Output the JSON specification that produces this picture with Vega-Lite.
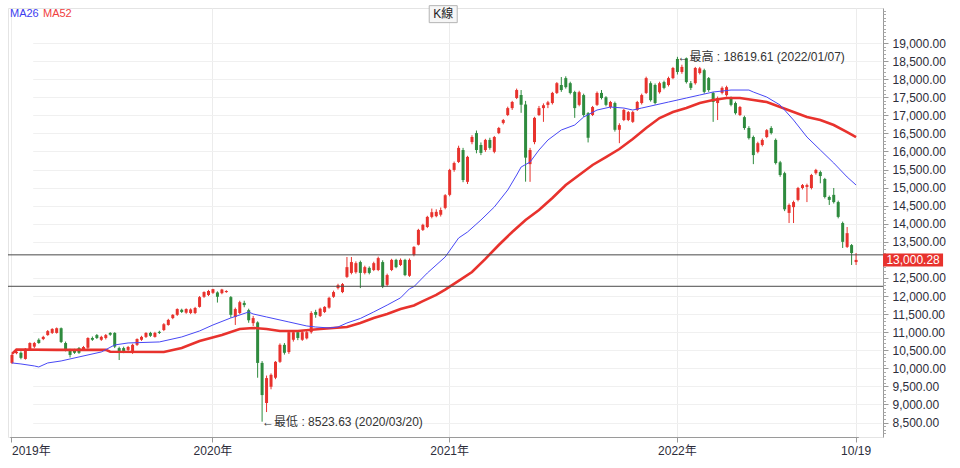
{
  "$schema": "https://vega.github.io/schema/vega-lite/v6.json",
  "width": 875,
  "height": 429,
  "autosize": {"type": "none"},
  "padding": {"left": 8, "top": 8, "right": 77, "bottom": 31},
  "background": "white",
  "config": {
    "view": {"stroke": "#e4e4e4"},
    "font": "Liberation Sans, Noto Sans CJK TC, sans-serif"
  },
  "resolve": {"scale": {"y": "shared"}, "axis": {"y": "independent"}},
  "datasets": {
    "k": [
      {"d":"2019-02-22","o":10150,"h":10400,"l":10120,"c":10370},
      {"d":"2019-03-01","o":10420,"h":10500,"l":10390,"c":10460},
      {"d":"2019-03-08","o":10430,"h":10470,"l":10250,"c":10290},
      {"d":"2019-03-15","o":10260,"h":10560,"l":10240,"c":10540},
      {"d":"2019-03-22","o":10510,"h":10720,"l":10480,"c":10700},
      {"d":"2019-03-29","o":10600,"h":10730,"l":10560,"c":10700},
      {"d":"2019-04-05","o":10790,"h":10830,"l":10680,"c":10700},
      {"d":"2019-04-12","o":10810,"h":10900,"l":10780,"c":10870},
      {"d":"2019-04-19","o":10920,"h":11060,"l":10900,"c":11030},
      {"d":"2019-04-26","o":10980,"h":11110,"l":10950,"c":11090},
      {"d":"2019-05-03","o":10980,"h":11130,"l":10960,"c":11110},
      {"d":"2019-05-10","o":11110,"h":11130,"l":10700,"c":10730},
      {"d":"2019-05-17","o":10700,"h":10740,"l":10470,"c":10510},
      {"d":"2019-05-24","o":10510,"h":10540,"l":10300,"c":10370},
      {"d":"2019-05-31","o":10500,"h":10540,"l":10400,"c":10430},
      {"d":"2019-06-06","o":10560,"h":10590,"l":10400,"c":10430},
      {"d":"2019-06-14","o":10520,"h":10620,"l":10490,"c":10590},
      {"d":"2019-06-21","o":10570,"h":10860,"l":10540,"c":10840},
      {"d":"2019-06-28","o":10840,"h":10880,"l":10760,"c":10790},
      {"d":"2019-07-05","o":10920,"h":10950,"l":10810,"c":10840},
      {"d":"2019-07-12","o":10790,"h":10900,"l":10760,"c":10870},
      {"d":"2019-07-19","o":10840,"h":10950,"l":10800,"c":10920},
      {"d":"2019-07-26","o":10980,"h":11000,"l":10900,"c":10930},
      {"d":"2019-08-02","o":10980,"h":11000,"l":10560,"c":10600},
      {"d":"2019-08-09","o":10560,"h":10600,"l":10230,"c":10430},
      {"d":"2019-08-16","o":10560,"h":10600,"l":10420,"c":10480},
      {"d":"2019-08-23","o":10510,"h":10620,"l":10470,"c":10590},
      {"d":"2019-08-30","o":10430,"h":10680,"l":10400,"c":10650},
      {"d":"2019-09-06","o":10650,"h":10830,"l":10620,"c":10810},
      {"d":"2019-09-12","o":10790,"h":10900,"l":10760,"c":10870},
      {"d":"2019-09-20","o":10870,"h":11000,"l":10840,"c":10980},
      {"d":"2019-09-27","o":10980,"h":11010,"l":10870,"c":10900},
      {"d":"2019-10-04","o":10870,"h":11010,"l":10850,"c":10980},
      {"d":"2019-10-11","o":11010,"h":11040,"l":10950,"c":10980},
      {"d":"2019-10-18","o":11060,"h":11250,"l":11030,"c":11220},
      {"d":"2019-10-25","o":11200,"h":11370,"l":11180,"c":11340},
      {"d":"2019-11-01","o":11390,"h":11500,"l":11360,"c":11480},
      {"d":"2019-11-08","o":11480,"h":11660,"l":11450,"c":11640},
      {"d":"2019-11-15","o":11620,"h":11650,"l":11530,"c":11560},
      {"d":"2019-11-22","o":11540,"h":11660,"l":11510,"c":11640},
      {"d":"2019-11-29","o":11530,"h":11660,"l":11500,"c":11630},
      {"d":"2019-12-06","o":11530,"h":11700,"l":11500,"c":11670},
      {"d":"2019-12-13","o":11700,"h":12000,"l":11680,"c":11970},
      {"d":"2019-12-20","o":11980,"h":12130,"l":11950,"c":12110},
      {"d":"2019-12-27","o":12030,"h":12170,"l":12000,"c":12140},
      {"d":"2020-01-03","o":12090,"h":12200,"l":12060,"c":12190},
      {"d":"2020-01-10","o":12100,"h":12130,"l":11820,"c":11980},
      {"d":"2020-01-17","o":12080,"h":12200,"l":12050,"c":12180},
      {"d":"2020-01-20","o":12110,"h":12160,"l":12090,"c":12140},
      {"d":"2020-01-31","o":11970,"h":12000,"l":11400,"c":11480},
      {"d":"2020-02-07","o":11420,"h":11680,"l":11200,"c":11640},
      {"d":"2020-02-14","o":11530,"h":11870,"l":11500,"c":11830},
      {"d":"2020-02-21","o":11810,"h":11870,"l":11690,"c":11750},
      {"d":"2020-02-27","o":11610,"h":11650,"l":11260,"c":11330},
      {"d":"2020-03-06","o":11250,"h":11450,"l":11170,"c":11390},
      {"d":"2020-03-13","o":11270,"h":11300,"l":9740,"c":10150},
      {"d":"2020-03-20","o":10150,"h":10200,"l":8523.63,"c":9260},
      {"d":"2020-03-27","o":9040,"h":9800,"l":8790,"c":9730},
      {"d":"2020-04-01","o":9490,"h":9860,"l":9420,"c":9820},
      {"d":"2020-04-10","o":9740,"h":10200,"l":9700,"c":10180},
      {"d":"2020-04-17","o":10180,"h":10690,"l":10150,"c":10650},
      {"d":"2020-04-24","o":10650,"h":10700,"l":10380,"c":10430},
      {"d":"2020-04-30","o":10450,"h":11030,"l":10400,"c":11000},
      {"d":"2020-05-08","o":10790,"h":11040,"l":10740,"c":11000},
      {"d":"2020-05-15","o":11000,"h":11050,"l":10780,"c":10840},
      {"d":"2020-05-22","o":10790,"h":11030,"l":10760,"c":11000},
      {"d":"2020-05-29","o":10830,"h":11040,"l":10800,"c":11000},
      {"d":"2020-06-05","o":11000,"h":11580,"l":10960,"c":11530},
      {"d":"2020-06-12","o":11560,"h":11620,"l":11400,"c":11480},
      {"d":"2020-06-19","o":11450,"h":11680,"l":11420,"c":11650},
      {"d":"2020-06-24","o":11560,"h":11720,"l":11530,"c":11700},
      {"d":"2020-07-03","o":11680,"h":11980,"l":11650,"c":11950},
      {"d":"2020-07-10","o":11980,"h":12150,"l":11950,"c":12110},
      {"d":"2020-07-17","o":12220,"h":12340,"l":12180,"c":12300},
      {"d":"2020-07-24","o":12110,"h":12360,"l":12080,"c":12330},
      {"d":"2020-07-31","o":12530,"h":13080,"l":12500,"c":12800},
      {"d":"2020-08-07","o":12640,"h":13080,"l":12600,"c":12940},
      {"d":"2020-08-14","o":12660,"h":12960,"l":12620,"c":12910},
      {"d":"2020-08-21","o":12940,"h":12980,"l":12220,"c":12640},
      {"d":"2020-08-28","o":12640,"h":12840,"l":12600,"c":12800},
      {"d":"2020-09-04","o":12780,"h":12820,"l":12600,"c":12640},
      {"d":"2020-09-11","o":12720,"h":12950,"l":12690,"c":12910},
      {"d":"2020-09-18","o":12720,"h":13090,"l":12690,"c":13050},
      {"d":"2020-09-25","o":12940,"h":12990,"l":12220,"c":12260},
      {"d":"2020-09-30","o":12310,"h":12620,"l":12270,"c":12580},
      {"d":"2020-10-08","o":12720,"h":13030,"l":12690,"c":13000},
      {"d":"2020-10-16","o":13000,"h":13030,"l":12770,"c":12800},
      {"d":"2020-10-23","o":12860,"h":13040,"l":12830,"c":13000},
      {"d":"2020-10-30","o":13000,"h":13030,"l":12550,"c":12580},
      {"d":"2020-11-06","o":12560,"h":13040,"l":12530,"c":13000},
      {"d":"2020-11-13","o":13140,"h":13380,"l":13100,"c":13360},
      {"d":"2020-11-20","o":13420,"h":13860,"l":13400,"c":13830},
      {"d":"2020-11-27","o":13830,"h":14000,"l":13800,"c":13970},
      {"d":"2020-12-04","o":13910,"h":14220,"l":13880,"c":14190},
      {"d":"2020-12-11","o":14190,"h":14420,"l":14150,"c":14320},
      {"d":"2020-12-18","o":14210,"h":14400,"l":14180,"c":14330},
      {"d":"2020-12-25","o":14250,"h":14450,"l":14200,"c":14380},
      {"d":"2020-12-31","o":14440,"h":14820,"l":14400,"c":14790},
      {"d":"2021-01-08","o":14800,"h":15520,"l":14760,"c":15490},
      {"d":"2021-01-15","o":15490,"h":15720,"l":15440,"c":15680},
      {"d":"2021-01-22","o":15710,"h":16160,"l":15680,"c":16100},
      {"d":"2021-01-29","o":16040,"h":16100,"l":15150,"c":15210},
      {"d":"2021-02-05","o":15160,"h":15880,"l":15100,"c":15850},
      {"d":"2021-02-19","o":16260,"h":16450,"l":16200,"c":16400},
      {"d":"2021-02-26","o":16510,"h":16580,"l":15950,"c":16040},
      {"d":"2021-03-05","o":16180,"h":16250,"l":15900,"c":15960},
      {"d":"2021-03-12","o":16040,"h":16350,"l":15990,"c":16320},
      {"d":"2021-03-19","o":16320,"h":16380,"l":16050,"c":16100},
      {"d":"2021-03-26","o":15990,"h":16430,"l":15950,"c":16400},
      {"d":"2021-04-01","o":16510,"h":16680,"l":16480,"c":16650},
      {"d":"2021-04-09","o":16790,"h":16900,"l":16750,"c":16870},
      {"d":"2021-04-16","o":17010,"h":17240,"l":16980,"c":17200},
      {"d":"2021-04-23","o":17200,"h":17400,"l":17150,"c":17370},
      {"d":"2021-04-30","o":17480,"h":17740,"l":17450,"c":17700},
      {"d":"2021-05-07","o":17560,"h":17700,"l":17070,"c":17290},
      {"d":"2021-05-14","o":17300,"h":17400,"l":15165,"c":15830},
      {"d":"2021-05-21","o":15650,"h":16100,"l":15160,"c":16040},
      {"d":"2021-05-28","o":16260,"h":16960,"l":16200,"c":16930},
      {"d":"2021-06-04","o":17010,"h":17260,"l":16980,"c":17200},
      {"d":"2021-06-11","o":17200,"h":17330,"l":16820,"c":17280},
      {"d":"2021-06-18","o":17290,"h":17400,"l":17200,"c":17360},
      {"d":"2021-06-25","o":17340,"h":17650,"l":17300,"c":17620},
      {"d":"2021-07-02","o":17620,"h":17920,"l":17590,"c":17890},
      {"d":"2021-07-09","o":17840,"h":18060,"l":17650,"c":17700},
      {"d":"2021-07-16","o":18030,"h":18080,"l":17740,"c":17780},
      {"d":"2021-07-23","o":17890,"h":17930,"l":17580,"c":17620},
      {"d":"2021-07-30","o":17645,"h":17680,"l":16930,"c":17200},
      {"d":"2021-08-06","o":17290,"h":17680,"l":17250,"c":17640},
      {"d":"2021-08-13","o":17560,"h":17600,"l":16960,"c":17010},
      {"d":"2021-08-20","o":17060,"h":17090,"l":16250,"c":16380},
      {"d":"2021-08-27","o":17010,"h":17260,"l":16980,"c":17230},
      {"d":"2021-09-03","o":17290,"h":17660,"l":17260,"c":17620},
      {"d":"2021-09-10","o":17620,"h":17700,"l":17440,"c":17480},
      {"d":"2021-09-17","o":17500,"h":17530,"l":17250,"c":17290},
      {"d":"2021-09-24","o":17230,"h":17400,"l":17180,"c":17370},
      {"d":"2021-10-01","o":17340,"h":17380,"l":16550,"c":16600},
      {"d":"2021-10-08","o":16600,"h":16780,"l":16230,"c":16730},
      {"d":"2021-10-15","o":16870,"h":17180,"l":16840,"c":17150},
      {"d":"2021-10-22","o":16870,"h":17120,"l":16840,"c":17090},
      {"d":"2021-10-29","o":16820,"h":17120,"l":16790,"c":17090},
      {"d":"2021-11-05","o":17150,"h":17400,"l":17120,"c":17370},
      {"d":"2021-11-12","o":17340,"h":17600,"l":17300,"c":17560},
      {"d":"2021-11-19","o":17620,"h":18070,"l":17590,"c":18030},
      {"d":"2021-11-26","o":17890,"h":17940,"l":17380,"c":17420},
      {"d":"2021-12-03","o":17840,"h":17880,"l":17300,"c":17340},
      {"d":"2021-12-10","o":17640,"h":17930,"l":17600,"c":17890},
      {"d":"2021-12-17","o":17920,"h":17960,"l":17720,"c":17760},
      {"d":"2021-12-24","o":17840,"h":18070,"l":17800,"c":18030},
      {"d":"2021-12-30","o":18030,"h":18340,"l":18000,"c":18310},
      {"d":"2022-01-07","o":18560,"h":18619.61,"l":18130,"c":18200},
      {"d":"2022-01-14","o":18200,"h":18400,"l":18150,"c":18340},
      {"d":"2022-01-21","o":18580,"h":18600,"l":17880,"c":17920},
      {"d":"2022-01-26","o":17890,"h":17950,"l":17700,"c":17760},
      {"d":"2022-02-11","o":17890,"h":18340,"l":17850,"c":18310},
      {"d":"2022-02-18","o":18170,"h":18340,"l":18130,"c":18300},
      {"d":"2022-02-25","o":18250,"h":18290,"l":17600,"c":17650},
      {"d":"2022-03-04","o":18030,"h":18060,"l":17650,"c":17700},
      {"d":"2022-03-11","o":17620,"h":17650,"l":16820,"c":17370},
      {"d":"2022-03-18","o":17340,"h":17520,"l":16870,"c":17480},
      {"d":"2022-03-25","o":17620,"h":17800,"l":17580,"c":17760},
      {"d":"2022-04-01","o":17560,"h":17820,"l":17520,"c":17780},
      {"d":"2022-04-08","o":17480,"h":17520,"l":17250,"c":17290},
      {"d":"2022-04-15","o":17340,"h":17380,"l":17020,"c":17060},
      {"d":"2022-04-22","o":17010,"h":17260,"l":16980,"c":17230},
      {"d":"2022-04-29","o":16950,"h":16990,"l":16600,"c":16650},
      {"d":"2022-05-06","o":16650,"h":16700,"l":16330,"c":16370},
      {"d":"2022-05-13","o":16400,"h":16440,"l":15650,"c":15900},
      {"d":"2022-05-20","o":15990,"h":16270,"l":15950,"c":16230},
      {"d":"2022-05-27","o":16180,"h":16360,"l":16140,"c":16320},
      {"d":"2022-06-02","o":16400,"h":16620,"l":16370,"c":16590},
      {"d":"2022-06-10","o":16650,"h":16700,"l":16470,"c":16510},
      {"d":"2022-06-17","o":16320,"h":16360,"l":15640,"c":15680},
      {"d":"2022-06-24","o":15700,"h":15740,"l":15300,"c":15350},
      {"d":"2022-07-01","o":15400,"h":15440,"l":14350,"c":14400},
      {"d":"2022-07-08","o":14300,"h":14560,"l":14020,"c":14520},
      {"d":"2022-07-15","o":14460,"h":14640,"l":14020,"c":14600},
      {"d":"2022-07-22","o":14660,"h":15020,"l":14620,"c":14990},
      {"d":"2022-07-29","o":14990,"h":15100,"l":14950,"c":15070},
      {"d":"2022-08-05","o":15020,"h":15110,"l":14600,"c":15070},
      {"d":"2022-08-12","o":14990,"h":15380,"l":14950,"c":15350},
      {"d":"2022-08-19","o":15400,"h":15520,"l":15360,"c":15490},
      {"d":"2022-08-26","o":15430,"h":15470,"l":15120,"c":15320},
      {"d":"2022-09-02","o":15240,"h":15270,"l":14700,"c":14740},
      {"d":"2022-09-08","o":14740,"h":14780,"l":14520,"c":14660},
      {"d":"2022-09-16","o":14800,"h":14990,"l":14560,"c":14600},
      {"d":"2022-09-23","o":14600,"h":14640,"l":14150,"c":14190},
      {"d":"2022-09-30","o":14020,"h":14060,"l":13330,"c":13500},
      {"d":"2022-10-07","o":13360,"h":13910,"l":13330,"c":13740},
      {"d":"2022-10-14","o":13410,"h":13440,"l":12860,"c":13190},
      {"d":"2022-10-19","o":12940,"h":13190,"l":12860,"c":13000.28}
    ],
    "ma26": [
      {"d":"2019-02-22","v":10149},{"d":"2019-03-08","v":10121},{"d":"2019-03-29","v":10066},
      {"d":"2019-04-05","v":10038},{"d":"2019-04-19","v":10149},{"d":"2019-05-10","v":10204},
      {"d":"2019-06-06","v":10315},{"d":"2019-07-12","v":10453},{"d":"2019-08-02","v":10647},
      {"d":"2019-08-23","v":10702},{"d":"2019-10-11","v":10730},{"d":"2019-11-15","v":10868},
      {"d":"2019-12-13","v":11034},{"d":"2020-01-03","v":11200},{"d":"2020-01-31","v":11394},
      {"d":"2020-02-27","v":11559},{"d":"2020-03-06","v":11504},{"d":"2020-03-27","v":11421},
      {"d":"2020-04-30","v":11283},{"d":"2020-05-29","v":11172},{"d":"2020-06-12","v":11144},
      {"d":"2020-07-03","v":11117},{"d":"2020-07-17","v":11144},{"d":"2020-07-31","v":11255},
      {"d":"2020-08-21","v":11380},{"d":"2020-09-11","v":11560},{"d":"2020-09-30","v":11750},
      {"d":"2020-10-23","v":11950},{"d":"2020-11-06","v":12200},{"d":"2020-11-13","v":12260},
      {"d":"2020-12-04","v":12638},{"d":"2020-12-31","v":13081},{"d":"2021-01-22","v":13606},
      {"d":"2021-02-05","v":13772},{"d":"2021-03-05","v":14104},{"d":"2021-03-26","v":14464},
      {"d":"2021-04-16","v":14934},{"d":"2021-04-30","v":15349},{"d":"2021-05-07","v":15570},
      {"d":"2021-05-21","v":15708},{"d":"2021-06-04","v":16040},{"d":"2021-06-18","v":16317},
      {"d":"2021-07-09","v":16594},{"d":"2021-07-30","v":16732},{"d":"2021-08-13","v":16953},
      {"d":"2021-09-03","v":17147},{"d":"2021-09-24","v":17230},{"d":"2021-10-15","v":17202},
      {"d":"2021-10-29","v":17147},{"d":"2021-11-12","v":17202},{"d":"2021-12-03","v":17285},
      {"d":"2021-12-24","v":17368},{"d":"2022-01-21","v":17479},{"d":"2022-02-18","v":17562},
      {"d":"2022-03-11","v":17645},{"d":"2022-04-08","v":17700},{"d":"2022-05-06","v":17700},
      {"d":"2022-05-13","v":17645},{"d":"2022-06-02","v":17506},{"d":"2022-06-24","v":17285},
      {"d":"2022-07-15","v":16870},{"d":"2022-08-05","v":16400},{"d":"2022-08-26","v":16040},
      {"d":"2022-09-16","v":15681},{"d":"2022-10-07","v":15294},{"d":"2022-10-19","v":15072}
    ],
    "ma52": [
      {"d":"2019-02-22","v":10400},{"d":"2019-03-01","v":10520},{"d":"2019-05-03","v":10510},
      {"d":"2019-07-19","v":10510},{"d":"2019-07-26","v":10460},{"d":"2019-10-18","v":10453},
      {"d":"2019-11-15","v":10564},{"d":"2019-12-13","v":10757},{"d":"2020-01-17","v":10923},
      {"d":"2020-02-14","v":11089},{"d":"2020-03-06","v":11117},{"d":"2020-03-27","v":11089},
      {"d":"2020-04-17","v":11034},{"d":"2020-05-15","v":11034},{"d":"2020-06-19","v":11089},
      {"d":"2020-07-10","v":11117},{"d":"2020-07-31","v":11144},{"d":"2020-08-21","v":11255},
      {"d":"2020-09-11","v":11394},{"d":"2020-09-30","v":11504},{"d":"2020-10-23","v":11640},
      {"d":"2020-11-13","v":11740},{"d":"2020-11-27","v":11860},{"d":"2020-12-18","v":12030},
      {"d":"2020-12-31","v":12180},{"d":"2021-01-22","v":12420},{"d":"2021-02-19","v":12666},
      {"d":"2021-03-12","v":13030},{"d":"2021-04-01","v":13413},{"d":"2021-04-23","v":13772},
      {"d":"2021-05-14","v":14104},{"d":"2021-06-04","v":14381},{"d":"2021-06-25","v":14713},
      {"d":"2021-07-16","v":15072},{"d":"2021-08-06","v":15349},{"d":"2021-08-27","v":15626},
      {"d":"2021-09-17","v":15847},{"d":"2021-10-08","v":16068},{"d":"2021-10-29","v":16345},
      {"d":"2021-11-19","v":16649},{"d":"2021-12-10","v":16926},{"d":"2021-12-30","v":17091},
      {"d":"2022-01-21","v":17202},{"d":"2022-02-18","v":17340},{"d":"2022-03-11","v":17423},
      {"d":"2022-04-01","v":17479},{"d":"2022-04-22","v":17479},{"d":"2022-05-13","v":17423},
      {"d":"2022-06-02","v":17368},{"d":"2022-06-24","v":17230},{"d":"2022-07-15","v":17091},
      {"d":"2022-08-05","v":16953},{"d":"2022-08-26","v":16870},{"d":"2022-09-16","v":16732},
      {"d":"2022-10-07","v":16538},{"d":"2022-10-19","v":16400}
    ],
    "minor": [
      {"m": 8200}, {"m": 19900}
    ]
  },
  "layer": [
    {
      "data": {"name": "k"},
      "mark": {"type": "rule", "strokeWidth": 1},
      "encoding": {
        "x": {
          "field": "d", "type": "ordinal", "title": null,
          "scale": {"type": "band", "paddingInner": 0, "paddingOuter": 0, "range": [1.767, 850.3]},
          "axis": {
            "values": ["2019-02-22", "2020-01-03", "2021-01-08", "2022-01-07", "2022-10-19"],
            "labelExpr": "datum.value == '2022-10-19' ? '10/19' : slice(datum.value, 0, 4) + '年'",
            "labelAngle": 0,
            "labelAlign": {"condition": {"test": "datum.value == '2019-02-22'", "value": "left"}, "value": "center"},
            "grid": true, "gridColor": "#ececec",
            "tickSize": 5, "tickColor": "#9a9a9a", "domainColor": "#9a9a9a",
            "labelFontSize": 12, "labelColor": "#2d2d3a", "labelPadding": 3,
            "labelFont": "Liberation Sans, Noto Sans CJK TC"
          }
        },
        "y": {
          "field": "l", "type": "quantitative", "title": null,
          "scale": {"domain": [8100, 19970], "zero": false, "nice": false},
          "axis": {
            "orient": "right",
            "values": [8500, 9000, 9500, 10000, 10500, 11000, 11500, 12000, 12500, 13500, 14000, 14500, 15000, 15500, 16000, 16500, 17000, 17500, 18000, 18500, 19000],
            "format": ",.2f",
            "grid": true, "gridColor": "#f0f0f0",
            "tickSize": 5, "tickColor": "#9a9a9a", "domainColor": "#9a9a9a",
            "labelFontSize": 12, "labelColor": "#2d2d3a", "labelPadding": 4,
            "labelFont": "Liberation Sans"
          }
        },
        "y2": {"field": "h"},
        "color": {"condition": {"test": "datum.c >= datum.o", "value": "#e8322d"}, "value": "#2e8b3e"}
      }
    },
    {
      "data": {"name": "minor"},
      "mark": {"type": "rule", "opacity": 0},
      "encoding": {
        "y": {
          "field": "m", "type": "quantitative", "title": null,
          "axis": {
            "orient": "right",
            "values": [8200, 8300, 8400, 8600, 8700, 8800, 8900, 9100, 9200, 9300, 9400, 9600, 9700, 9800, 9900, 10100, 10200, 10300, 10400, 10600, 10700, 10800, 10900, 11100, 11200, 11300, 11400, 11600, 11700, 11800, 11900, 12100, 12200, 12300, 12400, 12600, 12700, 12800, 12900, 13100, 13200, 13300, 13400, 13600, 13700, 13800, 13900, 14100, 14200, 14300, 14400, 14600, 14700, 14800, 14900, 15100, 15200, 15300, 15400, 15600, 15700, 15800, 15900, 16100, 16200, 16300, 16400, 16600, 16700, 16800, 16900, 17100, 17200, 17300, 17400, 17600, 17700, 17800, 17900, 18100, 18200, 18300, 18400, 18600, 18700, 18800, 18900, 19100, 19200, 19300, 19400, 19500, 19600, 19700, 19800, 19900],
            "labels": false, "grid": false, "domain": false,
            "tickSize": 2.5, "tickColor": "#aaaaaa"
          }
        }
      }
    },
    {
      "data": {"name": "k"},
      "mark": {"type": "bar", "width": 3},
      "encoding": {
        "x": {"field": "d", "type": "ordinal", "title": null},
        "y": {"field": "o", "type": "quantitative", "title": null, "axis": null},
        "y2": {"field": "c"},
        "color": {"condition": {"test": "datum.c >= datum.o", "value": "#e8322d"}, "value": "#2e8b3e"}
      }
    },
    {
      "data": {"name": "ma52"},
      "mark": {"type": "line", "color": "#e8322d", "strokeWidth": 2.6},
      "encoding": {
        "x": {"field": "d", "type": "ordinal", "title": null},
        "y": {"field": "v", "type": "quantitative", "title": null, "axis": null}
      }
    },
    {
      "data": {"name": "ma26"},
      "mark": {"type": "line", "color": "#4848f5", "strokeWidth": 1},
      "encoding": {
        "x": {"field": "d", "type": "ordinal", "title": null},
        "y": {"field": "v", "type": "quantitative", "title": null, "axis": null}
      }
    },
    {
      "data": {"values": [{"lv": 13140}, {"lv": 12270}]},
      "mark": {"type": "rule", "color": "#4a4a4a", "strokeWidth": 1},
      "encoding": {
        "y": {"field": "lv", "type": "quantitative", "title": null, "axis": null}
      }
    },
    {
      "data": {"values": [{"d": "2022-10-19", "p": 13000.28}]},
      "mark": {"type": "point", "shape": "M0.27,-0.065H0.87V0.065H0.27Z", "size": 40000, "filled": true, "fill": "#e8322d", "strokeWidth": 0, "opacity": 1},
      "encoding": {
        "x": {"field": "d", "type": "ordinal", "title": null},
        "y": {"field": "p", "type": "quantitative", "title": null, "axis": null}
      }
    },
    {
      "data": {"values": [{"d": "2022-10-19", "p": 13000.28}]},
      "mark": {"type": "text", "dx": 57, "align": "center", "baseline": "middle", "fill": "white", "fontSize": 12, "font": "Liberation Sans"},
      "encoding": {
        "x": {"field": "d", "type": "ordinal", "title": null},
        "y": {"field": "p", "type": "quantitative", "title": null, "axis": null},
        "text": {"field": "p", "type": "quantitative", "format": ",.2f"}
      }
    },
    {
      "data": {"values": [
        {"d": "2022-01-07", "v": 18619.61, "t": "←最高 : 18619.61 (2022/01/07)"},
        {"d": "2020-03-20", "v": 8523.63, "t": "←最低 : 8523.63 (2020/03/20)"}
      ]},
      "mark": {"type": "text", "align": "left", "baseline": "middle", "fontSize": 12, "fill": "#333333"},
      "encoding": {
        "x": {"field": "d", "type": "ordinal", "title": null},
        "y": {"field": "v", "type": "quantitative", "title": null, "axis": null},
        "text": {"field": "t"}
      }
    },
    {
      "data": {"values": [{"t": "MA26"}]},
      "mark": {"type": "text", "align": "left", "baseline": "middle", "dx": -2, "fontSize": 11, "fill": "#3c3cf0", "font": "Liberation Sans"},
      "encoding": {
        "x": {"datum": "2019-02-22", "type": "ordinal"},
        "y": {"datum": 19800, "type": "quantitative", "axis": null},
        "text": {"field": "t"}
      }
    },
    {
      "data": {"values": [{"t": "MA52"}]},
      "mark": {"type": "text", "align": "left", "baseline": "middle", "dx": 31, "fontSize": 11, "fill": "#f04040", "font": "Liberation Sans"},
      "encoding": {
        "x": {"datum": "2019-02-22", "type": "ordinal"},
        "y": {"datum": 19800, "type": "quantitative", "axis": null},
        "text": {"field": "t"}
      }
    },
    {
      "data": {"values": [{"t": "K線"}]},
      "mark": {"type": "point", "shape": "M-1.15,-0.85H1.65V0.85H-1.15Z", "size": 400, "filled": true, "fill": "#f6f6f6", "stroke": "#b4b4b4", "strokeWidth": 1, "opacity": 1},
      "encoding": {
        "x": {"datum": "2020-12-25", "type": "ordinal"},
        "y": {"datum": 19800, "type": "quantitative", "axis": null}
      }
    },
    {
      "data": {"values": [{"t": "K線"}]},
      "mark": {"type": "text", "align": "center", "baseline": "middle", "dx": 2.5, "fontSize": 12, "fill": "#222222"},
      "encoding": {
        "x": {"datum": "2020-12-25", "type": "ordinal"},
        "y": {"datum": 19800, "type": "quantitative", "axis": null},
        "text": {"field": "t"}
      }
    }
  ]
}
